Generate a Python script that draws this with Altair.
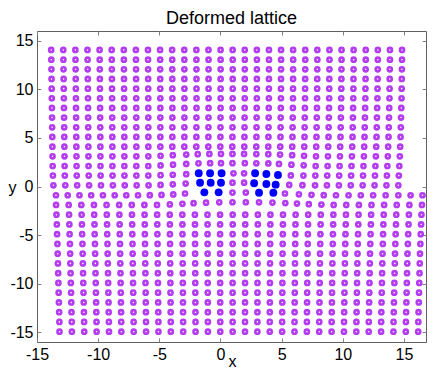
import altair as alt
import pandas as pd

# ---- lattice rows (30 rows, 30 sites each) ----
row_y = [14.05, 13.05, 12.06, 11.07, 10.07, 9.08, 8.08, 7.09, 6.09, 5.10,
         4.10, 3.11, 2.11, 1.12, 0.12,
         -0.90, -1.90, -2.90, -3.90, -4.91, -5.91, -6.91, -7.91, -8.92, -9.92,
         -10.92, -11.93, -12.93, -13.93, -14.94]
row_x_first = [-13.84, -13.83, -13.82, -13.81, -13.80, -13.79, -13.78, -13.77, -13.76, -13.75,
               -13.74, -13.73, -13.72, -13.70, -13.66,
               -13.48, -13.44, -13.41, -13.38, -13.36, -13.33, -13.31, -13.29, -13.27, -13.25,
               -13.23, -13.21, -13.19, -13.17, -13.16]
row_x_last = [14.84, 14.84, 14.83, 14.82, 14.81, 14.80, 14.78, 14.76, 14.74, 14.72,
              14.69, 14.66, 14.62, 14.58, 14.54,
              16.51, 16.47, 16.43, 16.40, 16.37, 16.34, 16.31, 16.29, 16.27, 16.25,
              16.23, 16.21, 16.19, 16.17, 16.16]
row_n = [30, 30, 30, 30, 30, 30, 30, 30, 30, 30, 30, 30, 30, 30, 30,
         30, 30, 30, 30, 30, 30, 30, 30, 30, 30, 30, 30, 30, 30, 30]

# ---- sites read individually around the two cores (None = highlighted site) ----
core_row = [11, 12, 13, 14, 15, 16]
core_first = [9, 9, 9, 9, 0, 9]
core_x = [
    [-4.90, -3.90, -2.80, -1.86, -0.91, 0.04, 0.98, 1.93, 2.93, 3.91, 4.87, 5.86, 6.83],
    [-4.90, -3.88, -2.80, -1.80, -0.85, 0.04, 0.98, 1.99, 2.93, 3.91, 4.78, 5.80, 6.80],
    [-4.90, -3.90, -2.80, None, None, None, 1.06, 1.93, None, None, None, 5.75, 6.78],
    [-4.90, -3.90, -2.85, None, None, None, 0.98, 1.93, None, None, None, 5.62, 6.70],
    [-13.45, -12.49, -11.53, -10.57, -9.61, -8.65, -7.70, -6.74, -5.78, -4.82,
     -3.86, -2.90, None, None, 0.98, 2.07, None, None, 5.27, 6.41,
     7.44, 8.44, 9.44, 10.47, 11.47, 12.48, 13.50, 14.54, 15.54, 16.51],
    [-4.14, -3.11, -2.20, -1.18, -0.10, 0.98, 2.07, 3.15, 4.25, 5.30, 6.25, 7.22, 8.25],
]
core_y = [
    [3.16, 3.22, 3.29, 3.33, 3.35, 3.35, 3.35, 3.35, 3.34, 3.32, 3.28, 3.22, 3.16],
    [2.17, 2.24, 2.32, 2.38, 2.40, 2.40, 2.40, 2.40, 2.39, 2.37, 2.32, 2.25, 2.18],
    [1.17, 1.21, 1.27, None, None, None, 1.36, 1.36, None, None, None, 1.14, 1.12],
    [0.16, 0.22, 0.30, None, None, None, 0.39, 0.39, None, None, None, 0.16, 0.13],
    [-0.90, -0.90, -0.90, -0.90, -0.90, -0.90, -0.90, -0.90, -0.89, -0.87,
     -0.82, -0.72, None, None, -0.63, -0.63, None, None, -0.72, -0.80,
     -0.86, -0.89, -0.90, -0.90, -0.90, -0.90, -0.90, -0.90, -0.90, -0.90],
    [-1.84, -1.78, -1.72, -1.66, -1.63, -1.62, -1.62, -1.63, -1.65, -1.70, -1.76, -1.82, -1.86],
]

# ---- highlighted (core) sites ----
blue_x = [-1.78, -0.85, 0.09, -1.67, -0.80, 0.04, -1.32, -0.15,
          2.83, 3.75, 4.70, 2.75, 3.75, 4.51, 3.15, 4.32]
blue_y = [1.36, 1.36, 1.36, 0.39, 0.39, 0.39, -0.60, -0.60,
          1.36, 1.29, 1.18, 0.33, 0.26, 0.19, -0.64, -0.64]

x_ticks = [-15, -10, -5, 0, 5, 10, 15]
y_ticks = [-15, -10, -5, 0, 5, 10, 15]

overrides = {r: (f, xl, yl) for r, f, xl, yl in zip(core_row, core_first, core_x, core_y)}

recs = []
for r, (y, x0, x1, n) in enumerate(zip(row_y, row_x_first, row_x_last, row_n)):
    step = (x1 - x0) / (n - 1)
    for i in range(n):
        px, py = x0 + i * step, y
        if r in overrides:
            f, xl, yl = overrides[r]
            if f <= i < f + len(xl):
                if xl[i - f] is None:
                    continue
                px, py = xl[i - f], yl[i - f]
        recs.append({"x": px, "y": py})
lattice = pd.DataFrame(recs)
core = pd.DataFrame({"x": blue_x, "y": blue_y})

FONT = "Liberation Sans"
xs = alt.Scale(domain=[-15, 16.8], nice=False, zero=False)
ys = alt.Scale(domain=[-16, 16], nice=False, zero=False)

common_axis = dict(grid=False, domain=False, tickSize=4, tickColor="#808080",
                   tickWidth=1, offset=-4, labelFont=FONT, labelFontSize=16,
                   labelColor="black", labelFlush=False, titleFont=FONT,
                   titleFontSize=16, titleFontWeight="normal", titleColor="black",
                   labelExpr="'' + datum.value")

x_axis = alt.Axis(values=x_ticks, labelPadding=4, title="x",
                  titleX=195, titleY=28, titleBaseline="alphabetic", titleAlign="center",
                  **common_axis)
y_axis = alt.Axis(values=y_ticks, labelPadding=4, title="y", titleAngle=0,
                  titleX=-29, titleY=156, titleBaseline="middle", titleAlign="center",
                  **common_axis)

pts = alt.Chart(lattice).mark_point(
    shape="circle", filled=False, color="#b43cf0", strokeWidth=2.6, size=17, opacity=1
).encode(
    x=alt.X("x:Q", scale=xs, axis=x_axis),
    y=alt.Y("y:Q", scale=ys, axis=y_axis),
)

mirror_axis = dict(grid=False, domain=False, tickSize=4, tickColor="#808080",
                   tickWidth=1, offset=-4, labels=False, title=None)

blue = alt.Chart(core).mark_point(
    shape="circle", filled=True, color="#0000ff", size=62, opacity=1
).encode(
    x=alt.X("x:Q", scale=xs, axis=alt.Axis(orient="top", values=x_ticks, **mirror_axis)),
    y=alt.Y("y:Q", scale=ys, axis=alt.Axis(orient="right", values=y_ticks, **mirror_axis)),
)

chart = alt.layer(pts, blue).resolve_scale(x="independent", y="independent").properties(
    width=389, height=311,
    title=alt.TitleParams("Deformed lattice", font=FONT, fontSize=18, fontWeight="normal",
                          color="black", anchor="middle", offset=3),
    autosize=alt.AutoSizeParams(type="none"),
    padding={"left": 29, "top": 23, "right": 2, "bottom": 28},
).configure_view(stroke="#606060", strokeWidth=1)

chart.save("out.html", embed_options={"renderer": "svg", "actions": False})
